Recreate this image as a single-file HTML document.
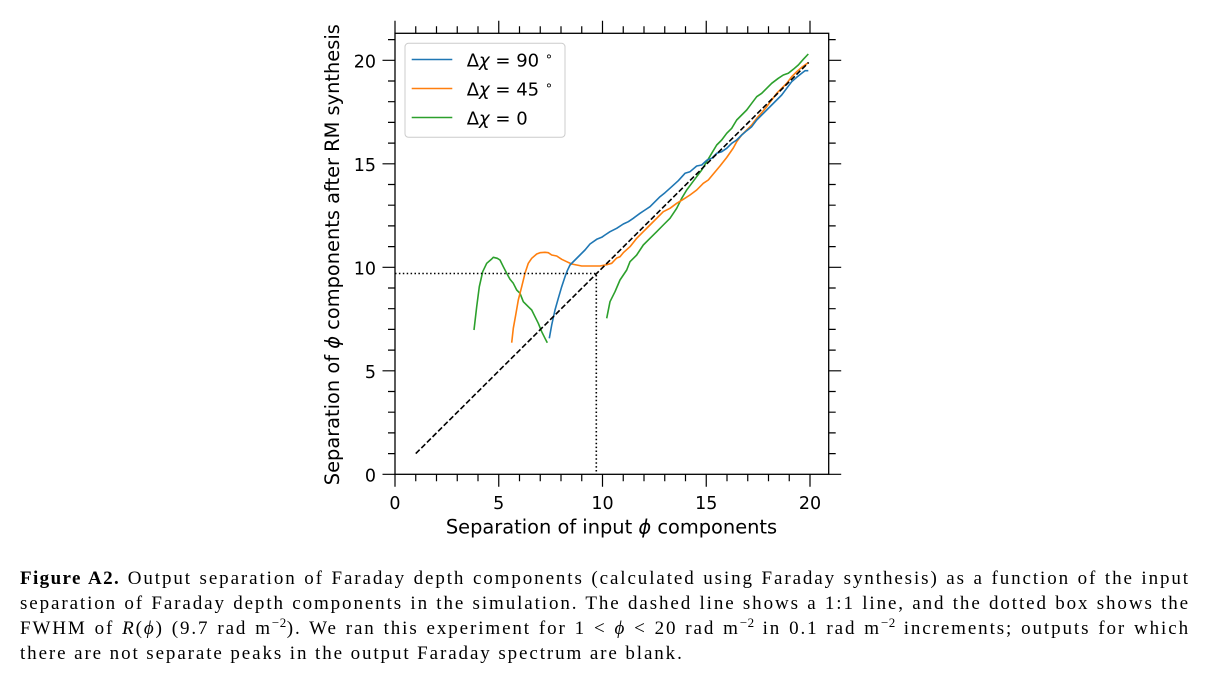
<!DOCTYPE html>
<html><head><meta charset="utf-8"><style>
html,body{margin:0;padding:0;background:#fff;}
body{width:1211px;height:675px;position:relative;overflow:hidden;}
svg{position:absolute;left:0;top:0;}
.cap{position:absolute;left:20px;width:1170px;font-family:"Liberation Serif",serif;font-size:19px;line-height:25px;letter-spacing:1.9px;white-space:nowrap;color:#000;}
.j{text-align:justify;text-align-last:justify;white-space:normal;}
.sup{font-size:13px;position:relative;top:-7px;letter-spacing:0.5px;}
i{font-style:italic;}
</style></head><body>
<svg width="1211" height="675" viewBox="0 0 1211 675" xmlns="http://www.w3.org/2000/svg">
<g fill="none" stroke-width="1.6" stroke-linejoin="round">
<polyline stroke="#2ca02c" points="474,330 476.7,306.7 479.3,286.7 482.7,271.7 486.7,263.3 491.7,259 493.3,257.3 497.3,258.3 500,260 503.3,266.7 506.7,273.3 510,279.3 513.3,283.3 516.7,290 520,293.3 523.3,301.7 528.3,306.7 531.7,310 535,316.7 538.3,323.3 541.7,331.7 545,338.3 547.3,342.7"/>
<polyline stroke="#2ca02c" points="606.7,318.3 610,301.7 615,291.7 620,280 626.7,270 630,261.7 636.7,255 643.3,245 650,238.3 656.7,231.7 663.3,225 670,218.3 676.7,208.3 681.7,198.3 686.7,190 691.7,183.3 696.7,176.7 701.7,170 706.7,161.7 711.7,153.3 716.7,145 721.7,140 726.7,133.3 731.7,128.3 736.7,120 741.7,115 746.7,110 751.7,103.3 756.7,96.7 761.7,93.3 766.7,88.3 771.7,83.3 778.3,78.3 783.3,75 788.3,73.3 793.3,69.3 798.3,65 803.3,59.3 808.3,54"/>
<polyline stroke="#ff7f0e" points="511.7,342.7 513.3,328.3 515.7,315 518.3,300 521.7,286.7 525,273.3 528.3,263.3 531.7,258.3 536.7,254 540,252.7 545,252.3 548.3,252.7 551.7,255 556.7,256 561.7,259.3 566.7,261.7 571.7,264 576.7,265 581.7,266 586.7,266 593.3,266 600,266 606.7,264.7 611.7,263.3 616.7,258 620,256.7 623.3,252.7 630,246.7 636.7,238.3 643.3,231.7 650,225 656.7,218.3 663.3,211.7 670,208.3 676.7,203.3 683.3,199.3 690,195 696.7,190 703.3,183.3 708.3,180 713.3,174 720,166 726.7,157.5 733.3,148 736.7,141.7 741.7,135 746.7,130 751.7,125 756.7,118.3 761.7,112.7 766.7,106.7 771.7,100 776.7,93.3 781.7,88.3 786.7,83.3 791.7,76.7 796.7,71.7 801.7,67.3 808.3,62.7"/>
<polyline stroke="#1f77b4" points="549.3,338.3 551.7,325 555,310 558.3,298.3 561.7,286.7 565,276.7 567.3,270.7 570,265 575,260 580,255 585,250 590,244 596.7,239.3 601.7,237.3 605,235 610,231.7 616.7,228.3 623.3,224 628.3,221.7 633.3,218.3 640,213.3 645,210 650,206.7 655,201.7 660,196.7 665,192.7 671.7,186.7 678.3,180.7 685,173.3 690,171.7 696.7,166 701.7,165 706.7,160.3 711.7,158.3 716.7,153.3 721.7,151.7 726.7,148.3 731.7,143.3 736.7,140 741.7,135 746.7,130.7 751.7,126.7 756.7,120 761.7,115 766.7,110 771.7,105 776.7,100 781.7,95 786.7,88.3 791.7,81.7 796.7,77.3 801.7,73.3 805,70.7 808.3,70.7"/>
<line x1="415.75" y1="453.6" x2="808.7" y2="62.4" stroke="#000" stroke-dasharray="5.5 2.4"/>
<polyline points="395,273.5 596.3,273.5 596.3,474.3" stroke="#000" stroke-dasharray="1.5 2.4"/>
</g>
<rect x="395" y="33.3" width="433.7" height="441" fill="none" stroke="#000" stroke-width="1.3"/>
<g stroke="#000" stroke-width="1.2" fill="none">
<path d="M395 474.3v12.5M498.75 474.3v12.5M602.5 474.3v12.5M706.25 474.3v12.5M810 474.3v12.5
M415.75 474.3v7M436.5 474.3v7M457.25 474.3v7M478 474.3v7M519.5 474.3v7M540.25 474.3v7M561 474.3v7M581.75 474.3v7M623.25 474.3v7M644 474.3v7M664.75 474.3v7M685.5 474.3v7M727 474.3v7M747.75 474.3v7M768.5 474.3v7M789.25 474.3v7"/>
<path d="M395 33.3v-12.5M498.75 33.3v-12.5M602.5 33.3v-12.5M706.25 33.3v-12.5M810 33.3v-12.5
M415.75 33.3v-7M436.5 33.3v-7M457.25 33.3v-7M478 33.3v-7M519.5 33.3v-7M540.25 33.3v-7M561 33.3v-7M581.75 33.3v-7M623.25 33.3v-7M644 33.3v-7M664.75 33.3v-7M685.5 33.3v-7M727 33.3v-7M747.75 33.3v-7M768.5 33.3v-7M789.25 33.3v-7"/>
<path d="M395 474.3h-12.5M395 370.8h-12.5M395 267.3h-12.5M395 163.8h-12.5M395 60.3h-12.5
M395 453.6h-7M395 432.9h-7M395 412.2h-7M395 391.5h-7M395 350.1h-7M395 329.4h-7M395 308.7h-7M395 288h-7M395 246.6h-7M395 225.9h-7M395 205.2h-7M395 184.5h-7M395 143.1h-7M395 122.4h-7M395 101.7h-7M395 81h-7M395 39.6h-7"/>
<path d="M828.7 474.3h12.5M828.7 370.8h12.5M828.7 267.3h12.5M828.7 163.8h12.5M828.7 60.3h12.5
M828.7 453.6h7M828.7 432.9h7M828.7 412.2h7M828.7 391.5h7M828.7 350.1h7M828.7 329.4h7M828.7 308.7h7M828.7 288h7M828.7 246.6h7M828.7 225.9h7M828.7 205.2h7M828.7 184.5h7M828.7 143.1h7M828.7 122.4h7M828.7 101.7h7M828.7 81h7M828.7 39.6h7"/>
</g>
<g font-family="DejaVu Sans, Liberation Sans, sans-serif" font-size="17.5" fill="#000">
<g text-anchor="end">
<text x="376" y="481.7">0</text>
<text x="376" y="378.2">5</text>
<text x="376" y="274.7">10</text>
<text x="376" y="171.2">15</text>
<text x="376" y="67.7">20</text>
</g>
<g text-anchor="middle">
<text x="395" y="509">0</text>
<text x="498.75" y="509">5</text>
<text x="602.5" y="509">10</text>
<text x="706.25" y="509">15</text>
<text x="810" y="509">20</text>
</g>
</g>
<g font-family="DejaVu Sans, Liberation Sans, sans-serif" font-size="19.4" fill="#000" text-anchor="middle">
<text x="611.5" y="533.5">Separation of input <tspan font-style="italic">ϕ</tspan> components</text>
<text transform="translate(339,254.7) rotate(-90)" x="0" y="0">Separation of <tspan font-style="italic">ϕ</tspan> components after RM synthesis</text>
</g>
<rect x="405" y="43.3" width="160" height="94" rx="3.5" fill="#fff" fill-opacity="0.8" stroke="#cccccc" stroke-width="1"/>
<g stroke-width="1.6">
<line x1="411.7" y1="59.5" x2="452.3" y2="59.5" stroke="#1f77b4"/>
<line x1="411.7" y1="88.5" x2="452.3" y2="88.5" stroke="#ff7f0e"/>
<line x1="411.7" y1="117.5" x2="452.3" y2="117.5" stroke="#2ca02c"/>
</g>
<g font-family="DejaVu Sans, Liberation Sans, sans-serif" font-size="18" fill="#000">
<text x="466.7" y="66.7">Δ<tspan font-style="italic">χ</tspan> = 90 <tspan font-size="13" dy="-6">∘</tspan></text>
<text x="466.7" y="95.5">Δ<tspan font-style="italic">χ</tspan> = 45 <tspan font-size="13" dy="-6">∘</tspan></text>
<text x="466.7" y="124.3">Δ<tspan font-style="italic">χ</tspan> = 0</text>
</g>
</svg>
<div class="cap j" style="top:566px"><b style="letter-spacing:1.4px">Figure A2.</b> Output separation of Faraday depth components (calculated using Faraday synthesis) as a function of the input</div>
<div class="cap j" style="top:591px">separation of Faraday depth components in the simulation. The dashed line shows a 1:1 line, and the dotted box shows the</div>
<div class="cap j" style="top:616px">FWHM of <i>R</i>(<i>ϕ</i>) (9.7 rad m<span class="sup">−2</span>). We ran this experiment for 1 &lt; <i>ϕ</i> &lt; 20 rad m<span class="sup">−2</span> in 0.1 rad m<span class="sup">−2</span> increments; outputs for which</div>
<div class="cap" style="top:641px">there are not separate peaks in the output Faraday spectrum are blank.</div>
</body></html>
